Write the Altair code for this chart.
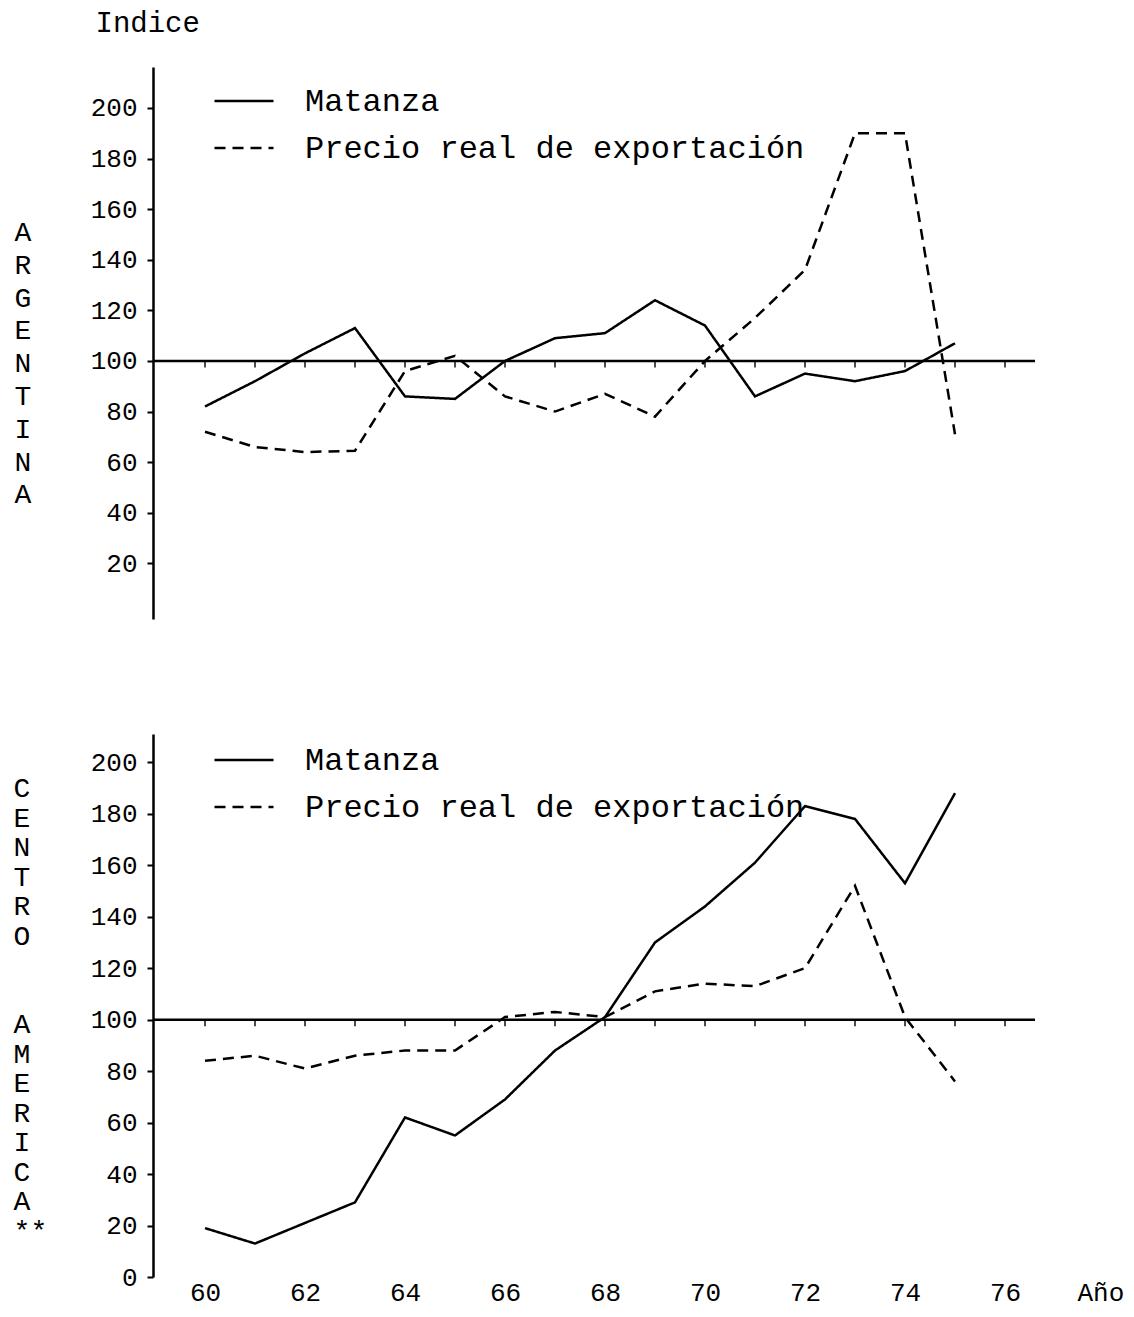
import altair as alt
import pandas as pd

# ---------------- data ----------------
years = list(range(60, 76))
series_names = ["Matanza", "Precio real de exportación"]

arg_matanza = [82, 92, 103, 113, 86, 85, 100, 109, 111, 124, 114, 86, 95, 92, 96, 107]
arg_precio = [72, 66, 64, 64.5, 96, 102, 86, 80, 87, 78, 100, 117, 136, 190, 190, 71]

ca_matanza = [19, 13, 21, 29, 62, 55, 69, 88, 101, 130, 144, 161, 183, 178, 153, 188]
ca_precio = [84, 86, 81, 86, 88, 88, 101, 103, 101, 111, 114, 113, 120, 152, 101, 76]

reference_level = 100
tick_years = list(range(60, 77))
x_label_years = list(range(60, 77, 2))
arg_y_ticks = list(range(20, 201, 20))
ca_y_ticks = list(range(0, 201, 20))

arg_title = list("ARGENTINA")
ca_title = ["C", "E", "N", "T", "R", "O", "\u2800", "\u2800",
            "A", "M", "E", "R", "I", "C", "A", "**"]

FONT = "Liberation Mono"
X_DOMAIN = [58.96, 76.6]


def panel(matanza, precio, y_domain, y_ticks, height, title_lines, title_offset,
          title_dy, line_height, legend_y, bottom):
    df = pd.DataFrame({
        "year": years * 2,
        "value": matanza + precio,
        "serie": [series_names[0]] * len(years) + [series_names[1]] * len(years),
    })
    ref_df = pd.DataFrame({"value": [reference_level]})
    tick_df = pd.DataFrame({"year": tick_years, "value": [reference_level] * len(tick_years)})

    if bottom:
        x_axis = alt.Axis(values=x_label_years, domain=False, ticks=False, grid=False,
                          labelFont=FONT, labelFontSize=26, labelColor="black",
                          labelPadding=2, labelFlush=False,
                          title="Año", titleFont=FONT, titleFontSize=26,
                          titleFontWeight="normal", titleColor="black", titleAngle=0,
                          titleAlign="left", titleBaseline="top", titleX=924, titleY=2)
    else:
        x_axis = None

    y_axis_kwargs = dict(values=y_ticks, grid=False, domainColor="black", domainWidth=2.5,
                         tickColor="black", tickSize=6, tickWidth=2,
                         labelFont=FONT, labelFontSize=26, labelColor="black",
                         labelPadding=10)
    if not bottom:
        y_axis_kwargs.update(title="Indice", titleFont=FONT, titleFontSize=29,
                             titleFontWeight="normal", titleColor="black", titleAngle=0,
                             titleAlign="left", titleBaseline="top", titleX=-58, titleY=-59)
    else:
        y_axis_kwargs.update(title="")

    x_enc = alt.X("year:Q", scale=alt.Scale(domain=X_DOMAIN, nice=False, zero=False), axis=x_axis)
    y_enc = alt.Y("value:Q", scale=alt.Scale(domain=y_domain, nice=False, zero=False),
                  axis=alt.Axis(**y_axis_kwargs))

    lines = alt.Chart(df).mark_line(color="black", strokeWidth=2.5).encode(
        x=x_enc,
        y=y_enc,
        strokeDash=alt.StrokeDash(
            "serie:N",
            scale=alt.Scale(domain=series_names, range=[[1, 0], [11, 7]]),
            legend=alt.Legend(title=None, orient="none", legendX=60, legendY=legend_y,
                              symbolType="stroke", symbolSize=3481, symbolStrokeWidth=2.5,
                              symbolStrokeColor="black", labelFont=FONT, labelFontSize=32,
                              labelColor="black", labelOffset=30, rowPadding=-8,
                              padding=0, labelLimit=800),
        ),
    )
    rule = alt.Chart(ref_df).mark_rule(color="black", strokeWidth=2.5).encode(y=y_enc)
    ticks = alt.Chart(tick_df).mark_tick(orient="vertical", size=7, thickness=2,
                                         color="black", yOffset=3).encode(x=x_enc, y=y_enc)

    return alt.layer(rule, ticks, lines).properties(
        width=882, height=height,
        title=alt.TitleParams(text=title_lines, orient="left", angle=0, align="left",
                              baseline="top", anchor="end", frame="group", font=FONT,
                              fontSize=28, fontWeight="normal", color="black",
                              lineHeight=line_height, offset=title_offset, dy=title_dy),
    )


top = panel(arg_matanza, arg_precio, [-2.0, 216.2], arg_y_ticks, 552, arg_title, 59, 152, 32.8, 3, False)
bottom = panel(ca_matanza, ca_precio, [0, 211], ca_y_ticks, 543, ca_title, 43, 41, 29.5, -5, True)

chart = alt.vconcat(top, bottom, spacing=110).resolve_legend(strokeDash="independent").properties(
    padding={"left": 5, "top": 0, "right": 0, "bottom": 3}
).configure_view(stroke=None)

chart.save("out.html", embed_options={"renderer": "svg", "actions": False})
